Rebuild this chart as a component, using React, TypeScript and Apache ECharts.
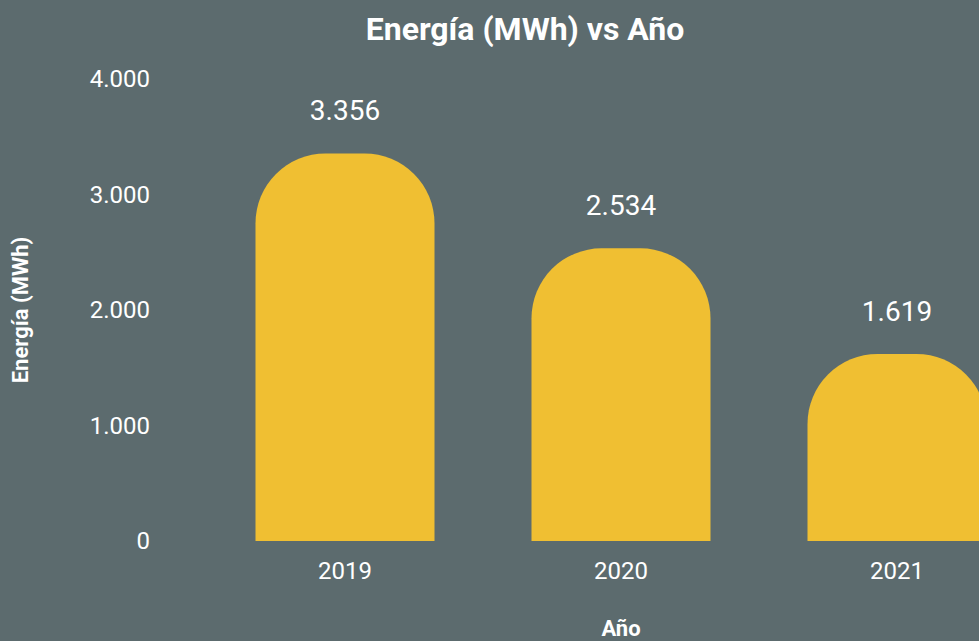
import React, { useEffect, useRef } from "react";
import * as echarts from "echarts";

const categories = ["2019", "2020", "2021"];
const energia = [3356, 2534, 1619];
const yTicks = [0, 1000, 2000, 3000, 4000];

const fmt = (v: number) => String(Math.round(v)).replace(/\B(?=(\d{3})+(?!\d))/g, ".");

export default function App() {
  const ref = useRef<HTMLDivElement>(null);
  useEffect(() => {
    if (!ref.current) return;
    document.body.style.margin = "0";
    const chart = echarts.init(ref.current, undefined, { renderer: "svg" });
    const font = "Roboto, 'Noto Sans', sans-serif";
    chart.setOption({
      animation: false,
      backgroundColor: "#5c6b6e",
      textStyle: { fontFamily: font },
      title: {
        text: "Energía (MWh) vs Año",
        left: 520,
        textAlign: "center",
        top: 8,
        textStyle: { color: "#ffffff", fontSize: 32, fontWeight: "bold", fontFamily: font },
      },
      grid: {
        left: 207,
        right: -56,
        top: 79,
        bottom: 100,
        containLabel: false,
        outerBoundsMode: "none",
      },
      xAxis: {
        type: "category",
        data: categories,
        name: "Año",
        nameLocation: "middle",
        nameGap: 76,
        nameTextStyle: { color: "#ffffff", fontSize: 22, fontWeight: "bold" },
        axisLine: { show: false },
        axisTick: { show: false },
        axisLabel: { color: "#ffffff", fontSize: 24, margin: 18 },
      },
      yAxis: {
        type: "value",
        min: yTicks[0],
        max: yTicks[yTicks.length - 1],
        interval: 1000,
        name: "Energía (MWh)",
        nameLocation: "middle",
        nameGap: 176,
        nameTextStyle: { color: "#ffffff", fontSize: 22, fontWeight: "bold" },
        splitLine: { show: false },
        axisLine: { show: false },
        axisTick: { show: false },
        axisLabel: { color: "#ffffff", fontSize: 24, margin: 57, formatter: (v: number) => fmt(v) },
      },
      series: [
        {
          type: "bar",
          data: energia,
          barWidth: 179,
          itemStyle: { color: "#f0bf32", borderRadius: [70, 70, 0, 0] },
          label: {
            show: true,
            position: "top",
            distance: 29,
            color: "#ffffff",
            fontSize: 28,
            formatter: (p: any) => fmt(p.value),
          },
        },
      ],
    });
    return () => chart.dispose();
  }, []);
  return <div ref={ref} style={{ width: 979, height: 641, position: "fixed", left: 0, top: 0 }} />;
}
